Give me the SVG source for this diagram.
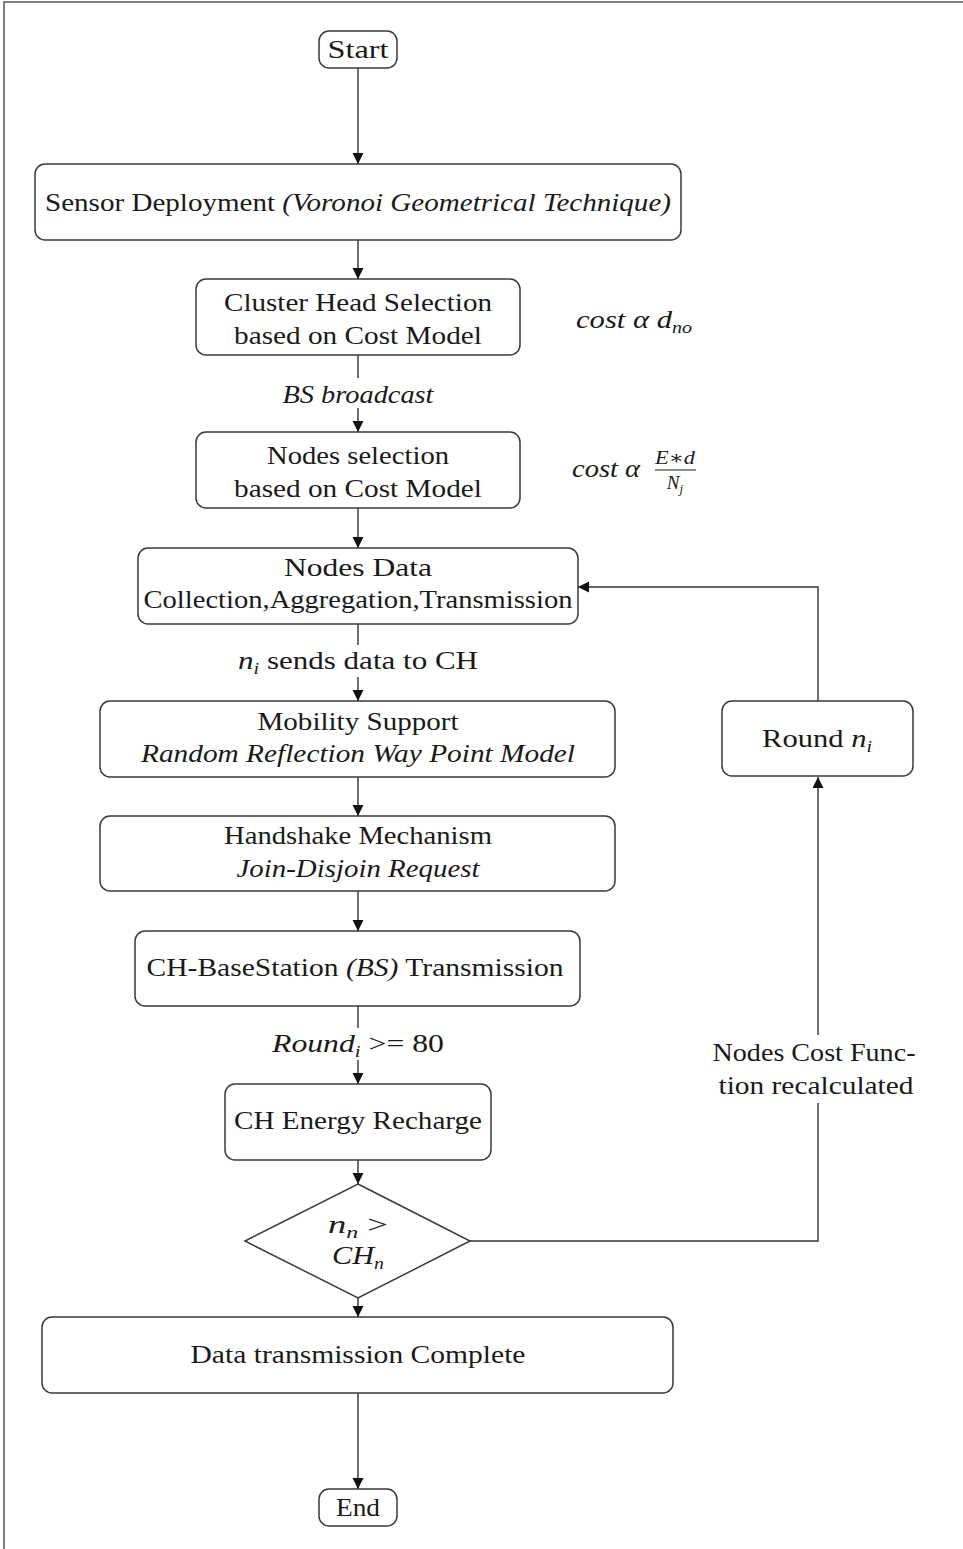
<svg xmlns="http://www.w3.org/2000/svg" width="963" height="1549" viewBox="0 0 963 1549">
<style>
  .box{fill:#fff;stroke:#3a3a3a;stroke-width:1.5}
  .t{font-family:"Liberation Serif","DejaVu Serif",serif;font-size:26px;fill:#1a1a1a;text-anchor:middle}
  .i{font-style:italic}
  .s{font-size:17px;font-style:italic}
  .c{fill:none;stroke:#333;stroke-width:1.4}
</style>
<defs>
  <marker id="ah" markerUnits="userSpaceOnUse" markerWidth="12" markerHeight="12" refX="11" refY="5.5" orient="auto">
    <path d="M0,0 L11,5.5 L0,11 z" fill="#111"/>
  </marker>
</defs>
<rect x="0" y="0" width="963" height="1549" fill="#fff"/>
<path d="M4,1549 V2 H963" fill="none" stroke="#555" stroke-width="1.5"/>

<g id="connectors">
  <path class="c" d="M358,68 V164" marker-end="url(#ah)"/>
  <path class="c" d="M358,240 V279" marker-end="url(#ah)"/>
  <path class="c" d="M358,355 V378"/>
  <path class="c" d="M358,408 V432" marker-end="url(#ah)"/>
  <path class="c" d="M358,508 V548" marker-end="url(#ah)"/>
  <path class="c" d="M358,624 V645"/>
  <path class="c" d="M358,677 V701" marker-end="url(#ah)"/>
  <path class="c" d="M358,777 V816" marker-end="url(#ah)"/>
  <path class="c" d="M358,891 V931" marker-end="url(#ah)"/>
  <path class="c" d="M358,1006 V1028"/>
  <path class="c" d="M358,1060 V1084" marker-end="url(#ah)"/>
  <path class="c" d="M358,1160 V1184" marker-end="url(#ah)"/>
  <path class="c" d="M358,1298 V1317" marker-end="url(#ah)"/>
  <path class="c" d="M358,1393 V1489" marker-end="url(#ah)"/>
  <path class="c" d="M470,1241 H818 V1103"/>
  <path class="c" d="M818,1035 V777" marker-end="url(#ah)"/>
  <path class="c" d="M818,701 V587 H578" marker-end="url(#ah)"/>
  <text class="t i" x="358" y="403" textLength="151" lengthAdjust="spacingAndGlyphs">BS broadcast</text>
  <text class="t" x="358" y="669" textLength="240" lengthAdjust="spacingAndGlyphs"><tspan class="i">n</tspan><tspan class="s" dy="5">i</tspan><tspan dy="-5"> sends data to CH</tspan></text>
  <text class="t" x="358" y="1052" textLength="172" lengthAdjust="spacingAndGlyphs"><tspan class="i">Round</tspan><tspan class="s" dy="5">i</tspan><tspan dy="-5"> &gt;= 80</tspan></text>
  <text class="t" x="814" y="1061" textLength="203" lengthAdjust="spacingAndGlyphs">Nodes Cost Func-</text>
  <text class="t" x="816" y="1094" textLength="195" lengthAdjust="spacingAndGlyphs">tion recalculated</text>
</g>

<g id="start">
  <rect class="box" x="319" y="31" width="78" height="37" rx="10"/>
  <text class="t" x="358" y="58" textLength="61" lengthAdjust="spacingAndGlyphs">Start</text>
</g>

<g id="sensor-deployment">
  <rect class="box" x="35" y="164" width="646" height="76" rx="10"/>
  <text class="t" x="358" y="211" textLength="626" lengthAdjust="spacingAndGlyphs">Sensor Deployment <tspan class="i">(Voronoi Geometrical Technique)</tspan></text>
</g>

<g id="cluster-head">
  <rect class="box" x="196" y="279" width="324" height="76" rx="10"/>
  <text class="t" x="358" y="311" textLength="268" lengthAdjust="spacingAndGlyphs">Cluster Head Selection</text>
  <text class="t" x="358" y="344" textLength="248" lengthAdjust="spacingAndGlyphs">based on Cost Model</text>
</g>

<g id="cost1">
  <text class="t i" x="576" y="328" style="text-anchor:start" textLength="116" lengthAdjust="spacingAndGlyphs">cost α d<tspan class="s" dy="5">no</tspan></text>
</g>

<g id="nodes-selection">
  <rect class="box" x="196" y="432" width="324" height="76" rx="10"/>
  <text class="t" x="358" y="464" textLength="182" lengthAdjust="spacingAndGlyphs">Nodes selection</text>
  <text class="t" x="358" y="497" textLength="248" lengthAdjust="spacingAndGlyphs">based on Cost Model</text>
</g>

<g id="cost2">
  <text class="t i" x="572" y="477" style="text-anchor:start" textLength="68" lengthAdjust="spacingAndGlyphs">cost α</text>
  <text class="t i" x="675" y="464" style="font-size:19px" textLength="40" lengthAdjust="spacingAndGlyphs">E∗d</text>
  <line x1="655" y1="470" x2="696" y2="470" stroke="#1a1a1a" stroke-width="1.2"/>
  <text class="t i" x="675" y="489" style="font-size:19px">N<tspan class="s" style="font-size:13px" dy="4">j</tspan></text>
</g>

<g id="nodes-data">
  <rect class="box" x="138" y="548" width="440" height="76" rx="10"/>
  <text class="t" x="358" y="576" textLength="148" lengthAdjust="spacingAndGlyphs">Nodes Data</text>
  <text class="t" x="358" y="608" textLength="429" lengthAdjust="spacingAndGlyphs">Collection,Aggregation,Transmission</text>
</g>

<g id="mobility">
  <rect class="box" x="100" y="701" width="515" height="76" rx="10"/>
  <text class="t" x="358" y="730" textLength="201" lengthAdjust="spacingAndGlyphs">Mobility Support</text>
  <text class="t i" x="358" y="762" textLength="434" lengthAdjust="spacingAndGlyphs">Random Reflection Way Point Model</text>
</g>

<g id="handshake">
  <rect class="box" x="100" y="816" width="515" height="75" rx="10"/>
  <text class="t" x="358" y="844" textLength="268" lengthAdjust="spacingAndGlyphs">Handshake Mechanism</text>
  <text class="t i" x="358" y="877" textLength="243" lengthAdjust="spacingAndGlyphs">Join-Disjoin Request</text>
</g>

<g id="ch-bs">
  <rect class="box" x="135" y="931" width="445" height="75" rx="10"/>
  <text class="t" x="355" y="976" textLength="417" lengthAdjust="spacingAndGlyphs">CH-BaseStation <tspan class="i">(BS)</tspan> Transmission</text>
</g>

<g id="ch-energy">
  <rect class="box" x="225" y="1084" width="266" height="76" rx="10"/>
  <text class="t" x="358" y="1129" textLength="248" lengthAdjust="spacingAndGlyphs">CH Energy Recharge</text>
</g>

<g id="decision">
  <polygon class="box" points="358,1184 470,1241 358,1298 245,1241"/>
  <text class="t" x="358" y="1233" textLength="60" lengthAdjust="spacingAndGlyphs"><tspan class="i">n</tspan><tspan class="s" dy="5">n</tspan><tspan dy="-5"> &gt;</tspan></text>
  <text class="t" x="358" y="1264" textLength="52" lengthAdjust="spacingAndGlyphs"><tspan class="i">CH</tspan><tspan class="s" dy="5">n</tspan></text>
</g>

<g id="data-complete">
  <rect class="box" x="42" y="1317" width="631" height="76" rx="10"/>
  <text class="t" x="358" y="1363" textLength="335" lengthAdjust="spacingAndGlyphs">Data transmission Complete</text>
</g>

<g id="end">
  <rect class="box" x="319" y="1489" width="78" height="37" rx="10"/>
  <text class="t" x="358" y="1516" textLength="44" lengthAdjust="spacingAndGlyphs">End</text>
</g>

<g id="round">
  <rect class="box" x="722" y="701" width="191" height="75" rx="10"/>
  <text class="t" x="817" y="747" textLength="110" lengthAdjust="spacingAndGlyphs">Round <tspan class="i">n</tspan><tspan class="s" dy="5">i</tspan></text>
</g>
</svg>
